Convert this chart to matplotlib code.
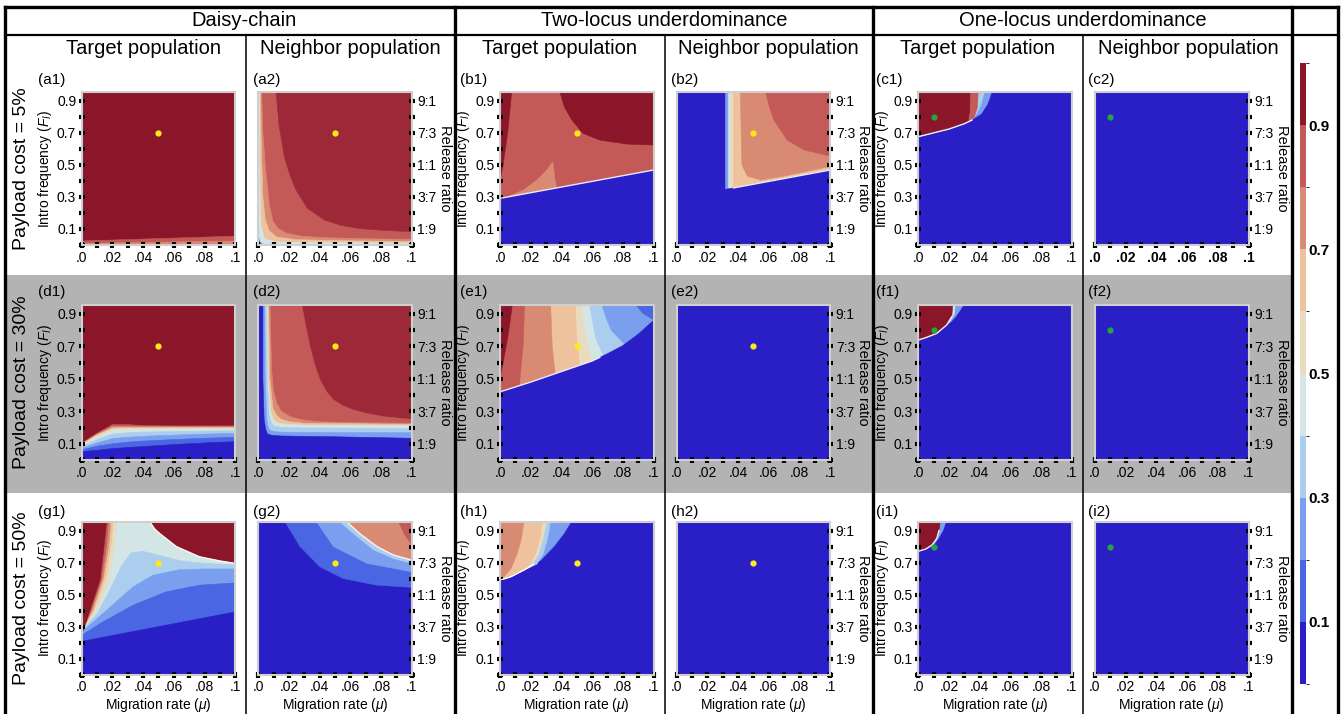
import numpy as np
import matplotlib.pyplot as plt
from matplotlib.colors import ListedColormap, BoundaryNorm
from matplotlib.colorbar import ColorbarBase
from matplotlib.patches import Rectangle

plt.rcParams['font.family'] = ['Liberation Sans', 'DejaVu Sans']
plt.rcParams['mathtext.fontset'] = 'custom'
plt.rcParams['mathtext.rm'] = 'Liberation Sans'
plt.rcParams['mathtext.it'] = 'Liberation Sans:italic'

W, H = 1342, 714
XR = 0.1     # migration rate axis end
YT = 0.955   # intro frequency axis end

# ---- colour scale (10 bands, 0..1) ----
LEVEL_COLORS = ['#2a1fc6', '#4a66e2', '#7a9fee', '#abcdee', '#d4e5e6',
                '#e9dcbe', '#eec29d', '#d98a72', '#c45a58', '#8b1629']
NEIGHBOR_TOP = '#9d2837'   # the daisy-chain neighbour panels show a lighter top band
LEVEL_BOUNDS = [0, 0.1, 0.2, 0.3, 0.4, 0.5, 0.6, 0.7, 0.8, 0.9, 1.0]
CBAR_TICKS = [0.1, 0.3, 0.5, 0.7, 0.9]

STRATEGIES = ['Daisy-chain', 'Two-locus underdominance', 'One-locus underdominance']
POPULATIONS = ['Target population', 'Neighbor population']
COSTS = ['5%', '30%', '50%']
X_TICK_LABELS = ['.0', '.02', '.04', '.06', '.08', '.1']
Y_TICK_LABELS = ['0.1', '0.3', '0.5', '0.7', '0.9']
RATIO_LABELS = ['1:9', '3:7', '1:1', '7:3', '9:1']

RELEASE_YELLOW = (0.05, 0.7)
RELEASE_GREEN = (0.01, 0.8)

# ---- regions: (level, kind, xs, ys), painted in order ----
A1_BG = 9
A1_LAYERS = [
    (8, 'below', [0, 0.05, 0.1], [0.025, 0.04, 0.055]),
    (7, 'below', [0, 0.1], [0.01, 0.025]),
]
A1_EDGE = None

A2_BG = 8
A2_LAYERS = [
    (9, 'above', [0.0116, 0.0135, 0.017, 0.0205, 0.0246, 0.032, 0.043, 0.053, 0.065, 0.08, 0.1],
     [YT, 0.75, 0.55, 0.44, 0.343, 0.229, 0.156, 0.125, 0.104, 0.092, 0.083]),
    (7, 'below', [0.0022, 0.003, 0.0045, 0.0055, 0.0072, 0.0095, 0.0127, 0.018, 0.028, 0.045, 0.07, 0.1],
     [YT, 0.7, 0.5, 0.405, 0.25, 0.15, 0.104, 0.075, 0.055, 0.045, 0.039, 0.035]),
    (6, 'below', [0.0014, 0.002, 0.003, 0.0045, 0.007, 0.012, 0.025, 0.06, 0.1],
     [YT, 0.6, 0.3, 0.16, 0.09, 0.05, 0.033, 0.026, 0.022]),
    (4, 'below', [0.0008, 0.001, 0.0018, 0.004, 0.012, 0.1], [YT, 0.4, 0.12, 0.04, 0.018, 0.012]),
    (2, 'below', [0, 0.001, 0.002, 0.004], [0.06, 0.025, 0.012, 0]),
    (0, 'below', [0, 0.001, 0.002], [0.03, 0.01, 0]),
]
A2_EDGE = None

B1_BG = 8
B1_LAYERS = [
    (9, 'above', [0.039, 0.042, 0.0468, 0.054, 0.065, 0.0826, 0.1], [YT, 0.86, 0.78, 0.697, 0.655, 0.63, 0.624]),
    (9, 'left', [0.0076, 0.005, 0.002, 0], [YT, 0.7, 0.5, 0.4]),
    (7, 'poly', [0.005, 0.0152, 0.024, 0.0305, 0.0344, 0.0359, 0.037, 0.037],
     [0.30, 0.343, 0.405, 0.468, 0.52, 0.405, 0.354, 0.3]),
    (0, 'below', [0, 0.1], [0.291, 0.468]),
]
B1_EDGE = ([0, 0.1], [0.291, 0.468])

B2_BG = 0
B2_LAYERS = [
    (2, 'above', [0.0317, 0.0317, 0.1], [YT, 0.3, 0.3]),
    (4, 'above', [0.0335, 0.0335, 0.1], [YT, 0.3, 0.3]),
    (5, 'above', [0.035, 0.035, 0.1], [YT, 0.3, 0.3]),
    (6, 'above', [0.0365, 0.0365, 0.1], [YT, 0.3, 0.3]),
    (7, 'above', [0.0415, 0.042, 0.0425, 0.046, 0.055, 0.07, 0.1], [YT, 0.7, 0.5, 0.43, 0.405, 0.43, 0.49]),
    (8, 'above', [0.0579, 0.0605, 0.0633, 0.072, 0.083, 0.1], [YT, 0.86, 0.78, 0.655, 0.593, 0.555]),
    (0, 'below', [0, 0.1], [0.291, 0.468]),
]
B2_EDGE = ([0.037, 0.1], [0.356, 0.468])

C1_BG = 0
C1_LAYERS = [
    (2, 'left', [0.0478, 0.045, 0.041, 0.036, 0.03, 0.02, 0.01, 0],
     [YT, 0.88, 0.82, 0.79, 0.757, 0.724, 0.70, 0.676]),
    (3, 'left', [0.043, 0.041, 0.038, 0.035, 0.03, 0.02, 0.01, 0],
     [YT, 0.88, 0.82, 0.785, 0.757, 0.724, 0.70, 0.676]),
    (8, 'left', [0.039, 0.0385, 0.0365, 0.034, 0.03, 0.02, 0.01, 0],
     [YT, 0.86, 0.8, 0.775, 0.757, 0.724, 0.70, 0.676]),
    (9, 'left', [0.0337, 0.0335, 0.0325, 0.03, 0.02, 0.01, 0],
     [YT, 0.85, 0.77, 0.757, 0.724, 0.70, 0.676]),
]
C1_EDGE = ([0, 0.01, 0.02, 0.03, 0.035], [0.676, 0.70, 0.724, 0.757, 0.78])

D1_X = [0, 0.01, 0.02, 0.03, 0.04, 0.06, 0.08, 0.1]
D1_BG = 9
D1_LAYERS = [
    (8, 'below', D1_X, [0.103, 0.165, 0.218, 0.218, 0.212, 0.21, 0.21, 0.21]),
    (7, 'below', D1_X, [0.100, 0.160, 0.207, 0.207, 0.205, 0.205, 0.205, 0.205]),
    (6, 'below', D1_X, [0.098, 0.155, 0.198, 0.200, 0.200, 0.200, 0.200, 0.200]),
    (5, 'below', D1_X, [0.095, 0.150, 0.190, 0.195, 0.196, 0.196, 0.196, 0.196]),
    (4, 'below', D1_X, [0.090, 0.140, 0.180, 0.187, 0.189, 0.190, 0.190, 0.190]),
    (3, 'below', D1_X, [0.082, 0.125, 0.160, 0.168, 0.172, 0.175, 0.178, 0.180]),
    (2, 'below', D1_X, [0.072, 0.105, 0.132, 0.140, 0.146, 0.153, 0.160, 0.164]),
    (1, 'below', D1_X, [0.062, 0.085, 0.100, 0.110, 0.117, 0.126, 0.134, 0.140]),
    (0, 'below', D1_X, [0.051, 0.060, 0.070, 0.077, 0.083, 0.095, 0.105, 0.113]),
]
D1_EDGE = None

D2_BG = 9
D2_LAYERS = [
    (8, 'below', [0.0283, 0.031, 0.0337, 0.037, 0.0402, 0.0445, 0.0489, 0.055, 0.062, 0.07, 0.0815, 0.1],
     [YT, 0.82, 0.698, 0.58, 0.493, 0.42, 0.37, 0.335, 0.308, 0.288, 0.267, 0.25]),
    (7, 'below', [0.0076, 0.0087, 0.0098, 0.012, 0.015, 0.0207, 0.028, 0.038, 0.06, 0.1],
     [YT, 0.555, 0.43, 0.35, 0.3, 0.267, 0.248, 0.236, 0.23, 0.226]),
    (6, 'below', [0.0068, 0.0075, 0.0095, 0.012, 0.015, 0.02, 0.03, 0.1],
     [YT, 0.5, 0.32, 0.275, 0.25, 0.237, 0.226, 0.22]),
    (4, 'below', [0.006, 0.0065, 0.008, 0.01, 0.012, 0.018, 0.03, 0.1],
     [YT, 0.5, 0.3, 0.25, 0.23, 0.22, 0.215, 0.212]),
    (3, 'below', [0.0053, 0.0058, 0.007, 0.0085, 0.01, 0.015, 0.03, 0.1],
     [YT, 0.5, 0.28, 0.23, 0.21, 0.2, 0.198, 0.195]),
    (2, 'below', [0.0042, 0.0045, 0.0055, 0.0065, 0.008, 0.012, 0.02, 0.1],
     [YT, 0.5, 0.25, 0.2, 0.18, 0.173, 0.17, 0.168]),
    (0, 'below', [0.003, 0.003, 0.0038, 0.0048, 0.006, 0.009, 0.015, 0.05, 0.1],
     [YT, 0.5, 0.25, 0.19, 0.16, 0.152, 0.148, 0.143, 0.134]),
]
D2_EDGE = None

E1_BG = 1
E1_LAYERS = [
    (2, 'below', [0.088, 0.093, 0.1], [YT, 0.9, 0.86]),
    (3, 'below', [0.066, 0.069, 0.072, 0.08, 0.09], [YT, 0.87, 0.8, 0.72, 0.6]),
    (4, 'below', [0.058, 0.06, 0.062, 0.068, 0.075], [YT, 0.85, 0.75, 0.62, 0.5]),
    (5, 'below', [0.053, 0.054, 0.056, 0.06, 0.065], [YT, 0.85, 0.75, 0.6, 0.45]),
    (6, 'below', [0.049, 0.0495, 0.05, 0.052, 0.055], [YT, 0.85, 0.75, 0.58, 0.4]),
    (7, 'below', [0.033, 0.0335, 0.034, 0.036, 0.038], [YT, 0.82, 0.7, 0.53, 0.4]),
    (8, 'below', [0.016, 0.0155, 0.015, 0.013, 0.012], [YT, 0.82, 0.7, 0.5, 0.35]),
    (9, 'left', [0.008, 0.0065, 0.005, 0.002, 0], [YT, 0.85, 0.75, 0.6, 0.5]),
    (0, 'below', [0, 0.02, 0.04, 0.06, 0.07, 0.08, 0.09, 0.1],
     [0.42, 0.48, 0.545, 0.61, 0.655, 0.705, 0.775, 0.86]),
]
E1_EDGE = ([0, 0.02, 0.04, 0.06, 0.065], [0.42, 0.48, 0.545, 0.61, 0.632])

F1_BG = 0
F1_LAYERS = [
    (2, 'left', [0.0293, 0.027, 0.024, 0.021, 0.018, 0.012, 0.0055, 0],
     [YT, 0.92, 0.88, 0.85, 0.83, 0.78, 0.756, 0.739]),
    (4, 'left', [0.024, 0.0235, 0.021, 0.018, 0.012, 0.0055, 0],
     [YT, 0.9, 0.86, 0.832, 0.78, 0.756, 0.739]),
    (9, 'left', [0.0224, 0.0218, 0.0185, 0.012, 0.0055, 0],
     [YT, 0.883, 0.832, 0.78, 0.756, 0.739]),
]
F1_EDGE = ([0, 0.0055, 0.012, 0.0185, 0.0218], [0.739, 0.756, 0.78, 0.832, 0.883])

G1_BG = 9
G1_LAYERS = [
    (4, 'below', [0.0443, 0.0475, 0.0507, 0.0616, 0.0767, 0.09, 0.1], [YT, 0.91, 0.882, 0.8, 0.736, 0.71, 0.695]),
    (3, 'below', [0, 0.01, 0.0183, 0.026, 0.032, 0.04, 0.05, 0.065, 0.08, 0.1],
     [0.275, 0.38, 0.528, 0.68, 0.76, 0.77, 0.745, 0.71, 0.695, 0.685]),
    (2, 'below', [0, 0.0162, 0.0335, 0.0464, 0.0637, 0.08, 0.1],
     [0.267, 0.402, 0.548, 0.621, 0.655, 0.66, 0.66]),
    (1, 'below', [0, 0.0119, 0.0335, 0.055, 0.0767, 0.1], [0.246, 0.319, 0.434, 0.517, 0.559, 0.573]),
    (0, 'below', [0, 0.05, 0.1], [0.208, 0.30, 0.392]),
    (5, 'left', [0, 0.0095, 0.018, 0.021, 0.023], [0.28, 0.4, 0.6, 0.8, YT]),
    (6, 'left', [0, 0.008, 0.0155, 0.019, 0.0205], [0.275, 0.4, 0.6, 0.8, YT]),
    (7, 'left', [0, 0.007, 0.014, 0.0175, 0.019], [0.27, 0.4, 0.6, 0.8, YT]),
    (8, 'left', [0, 0.006, 0.013, 0.016, 0.0175], [0.265, 0.4, 0.6, 0.8, YT]),
    (9, 'left', [0, 0.001, 0.0054, 0.0119, 0.0145, 0.0162], [0.257, 0.277, 0.402, 0.59, 0.8, YT]),
]
G1_EDGE = ([0.0443, 0.0475, 0.0507, 0.0616, 0.0767, 0.09, 0.1], [YT, 0.91, 0.882, 0.8, 0.736, 0.71, 0.695])

G2_BG = 0
G2_LAYERS = [
    (1, 'above', [0.0174, 0.0272, 0.0402, 0.0554, 0.0772, 0.1], [YT, 0.8, 0.673, 0.6, 0.559, 0.545]),
    (2, 'above', [0.038, 0.0489, 0.0707, 0.1], [YT, 0.8, 0.695, 0.642]),
    (3, 'above', [0.053, 0.062, 0.075, 0.088, 0.1], [YT, 0.88, 0.78, 0.725, 0.695]),
    (7, 'above', [0.0576, 0.0659, 0.0772, 0.088, 0.1], [YT, 0.882, 0.8, 0.747, 0.715]),
    (8, 'above', [0.0913, 0.095, 0.1], [YT, 0.88, 0.81]),
]
G2_EDGE = ([0.0576, 0.0659, 0.0772, 0.088, 0.1], [YT, 0.882, 0.8, 0.747, 0.715])

H1_BG = 0
H1_LAYERS = [
    (2, 'left', [0.0463, 0.0416, 0.035, 0.0264, 0.0156, 0.007, 0], [YT, 0.882, 0.8, 0.715, 0.653, 0.611, 0.59]),
    (3, 'left', [0.0329, 0.031, 0.028, 0.024, 0.0156, 0.007, 0], [YT, 0.85, 0.75, 0.69, 0.653, 0.611, 0.59]),
    (5, 'left', [0.0303, 0.028, 0.025, 0.02, 0.0156, 0.007, 0], [YT, 0.85, 0.75, 0.675, 0.653, 0.611, 0.59]),
    (6, 'left', [0.0275, 0.026, 0.023, 0.018, 0.0156, 0.007, 0], [YT, 0.85, 0.75, 0.668, 0.653, 0.611, 0.59]),
    (7, 'left', [0.0156, 0.014, 0.011, 0.007, 0.003, 0], [YT, 0.85, 0.75, 0.66, 0.615, 0.595]),
]
H1_EDGE = ([0, 0.007, 0.0156, 0.022], [0.59, 0.611, 0.653, 0.69])

I1_BG = 0
I1_LAYERS = [
    (2, 'left', [0.018, 0.016, 0.013, 0.01, 0.005, 0], [YT, 0.9, 0.85, 0.81, 0.785, 0.77]),
    (9, 'left', [0.0143, 0.0135, 0.012, 0.009, 0.005, 0], [YT, 0.9, 0.85, 0.81, 0.785, 0.77]),
]
I1_EDGE = ([0, 0.005, 0.009, 0.012, 0.0135], [0.77, 0.785, 0.81, 0.85, 0.9])

EMPTY_LAYERS = []

PANELS = [
    [('a1', A1_BG, A1_LAYERS, A1_EDGE), ('a2', A2_BG, A2_LAYERS, A2_EDGE),
     ('b1', B1_BG, B1_LAYERS, B1_EDGE), ('b2', B2_BG, B2_LAYERS, B2_EDGE),
     ('c1', C1_BG, C1_LAYERS, C1_EDGE), ('c2', 0, EMPTY_LAYERS, None)],
    [('d1', D1_BG, D1_LAYERS, D1_EDGE), ('d2', D2_BG, D2_LAYERS, D2_EDGE),
     ('e1', E1_BG, E1_LAYERS, E1_EDGE), ('e2', 0, EMPTY_LAYERS, None),
     ('f1', F1_BG, F1_LAYERS, F1_EDGE), ('f2', 0, EMPTY_LAYERS, None)],
    [('g1', G1_BG, G1_LAYERS, G1_EDGE), ('g2', G2_BG, G2_LAYERS, G2_EDGE),
     ('h1', H1_BG, H1_LAYERS, H1_EDGE), ('h2', 0, EMPTY_LAYERS, None),
     ('i1', I1_BG, I1_LAYERS, I1_EDGE), ('i2', 0, EMPTY_LAYERS, None)],
]

# ---- layout (pixels) ----
COL_LEFT = [81.7, 258.3, 500, 676.7, 918.3, 1095]
ROW_TOP = [92, 305, 521.7]
ROW_H = [153, 155, 153]
AX_W = 153.5
LABEL_X = [38, 253, 460, 671, 876, 1088]
LABEL_Y = [80, 292, 512]


def px_rect(l, t, w, h):
    return [l / W, 1 - (t + h) / H, w / W, h / H]


def paint(ax, bg, layers, edge, top_color):
    colors = LEVEL_COLORS[:9] + [top_color]
    ax.set_facecolor(colors[bg])
    for level, kind, xs, ys in layers:
        xs, ys = list(xs), list(ys)
        if kind == 'below':
            xs += [XR, 0, 0]
            ys += [0, 0, YT]
        elif kind == 'above':
            xs += [XR, 0]
            ys += [YT, YT]
        elif kind == 'left':
            xs += [0]
            ys += [YT]
        c = colors[level]
        ax.fill(xs, ys, color=c, ec=c, lw=0.4)
    if edge is not None:
        ax.plot(edge[0], edge[1], color='white', lw=1.0, alpha=0.9)


fig = plt.figure(figsize=(W / 100, H / 100), dpi=100)

# background frame, gray band and separator lines
bgax = fig.add_axes([0, 0, 1, 1])
bgax.set_xlim(0, W)
bgax.set_ylim(H, 0)
bgax.axis('off')
bgax.add_patch(Rectangle((5, 275), 1287, 218, color='#b3b3b3', lw=0))
bgax.plot([5, 1338], [7, 7], color='k', lw=2.4)
bgax.plot([5, 1338], [35, 35], color='k', lw=1.6)
for x in [5, 455, 873, 1292, 1338]:
    bgax.plot([x, x], [7, H], color='k', lw=2.4)
for x in [246, 665, 1083]:
    bgax.plot([x, x], [35, H], color='k', lw=1.1)

for x, s in zip([244, 664, 1083], STRATEGIES):
    fig.text(x / W, 1 - 21 / H, s, ha='center', va='center', fontsize=14.5)
for x, s in zip([143, 350, 560, 768, 978, 1188], POPULATIONS * 3):
    fig.text(x / W, 1 - 49 / H, s, ha='center', va='center', fontsize=14.5)

for r in range(3):
    yc = ROW_TOP[r] + ROW_H[r] / 2
    fig.text(22 / W, 1 - yc / H, 'Payload cost = ' + COSTS[r], rotation=90,
             ha='center', va='center', fontsize=14)
    for c in range(6):
        name, bg, layers, edge = PANELS[r][c]
        ax = fig.add_axes(px_rect(COL_LEFT[c], ROW_TOP[r], AX_W, ROW_H[r]))
        top = NEIGHBOR_TOP if c == 1 else LEVEL_COLORS[9]
        paint(ax, bg, layers, edge, top)
        dot, dcol = (RELEASE_GREEN, '#1fa83f') if c >= 4 else (RELEASE_YELLOW, '#ffe81a')
        ax.plot(dot[0], dot[1], 'o', color=dcol, ms=4.5, mec='none', zorder=5)
        ax.set_xlim(0, XR)
        ax.set_ylim(0, YT)
        for sp in ax.spines.values():
            sp.set_color('#cfcfcf')
            sp.set_linewidth(1.5)
        ax.set_xticks(np.linspace(0, 0.1, 6))
        ax.set_xticks(np.linspace(0, 0.1, 11), minor=True)
        xl = ax.set_xticklabels(X_TICK_LABELS, fontsize=10)
        if name == 'c2':
            for t in xl:
                t.set_fontweight('bold')
        ax.set_yticks(np.arange(0.1, 1.0, 0.2))
        ax.set_yticks(np.arange(0, 0.95, 0.1), minor=True)
        ax.tick_params(which='both', direction='inout', length=4, width=3,
                       color='k', pad=2, labelsize=10)
        if c % 2 == 0:
            ax.set_yticklabels(Y_TICK_LABELS)
            ax.set_ylabel(r'Intro frequency ($F_I$)', fontsize=10, labelpad=2)
        else:
            ax.yaxis.tick_right()
            ax.set_yticklabels(RATIO_LABELS)
            ax.yaxis.set_label_position('right')
            ax.set_ylabel('Release ratio', fontsize=10.5, rotation=270, va='bottom', labelpad=1)
        if r == 2:
            ax.set_xlabel(r'Migration rate ($\mu$)', fontsize=10, labelpad=1)
        fig.text(LABEL_X[c] / W, 1 - LABEL_Y[r] / H, '(' + name + ')',
                 ha='left', va='center', fontsize=11)

# colour bar
cax = fig.add_axes(px_rect(1300, 63, 6, 621))
cmap = ListedColormap(LEVEL_COLORS)
norm = BoundaryNorm(LEVEL_BOUNDS, cmap.N)
cb = ColorbarBase(cax, cmap=cmap, norm=norm, boundaries=LEVEL_BOUNDS, ticks=CBAR_TICKS)
cb.outline.set_visible(False)
cax.tick_params(length=0, pad=2)
cax.set_yticklabels([str(t) for t in CBAR_TICKS], fontsize=11, fontweight='bold')

fig.savefig('out.png', dpi=100)
